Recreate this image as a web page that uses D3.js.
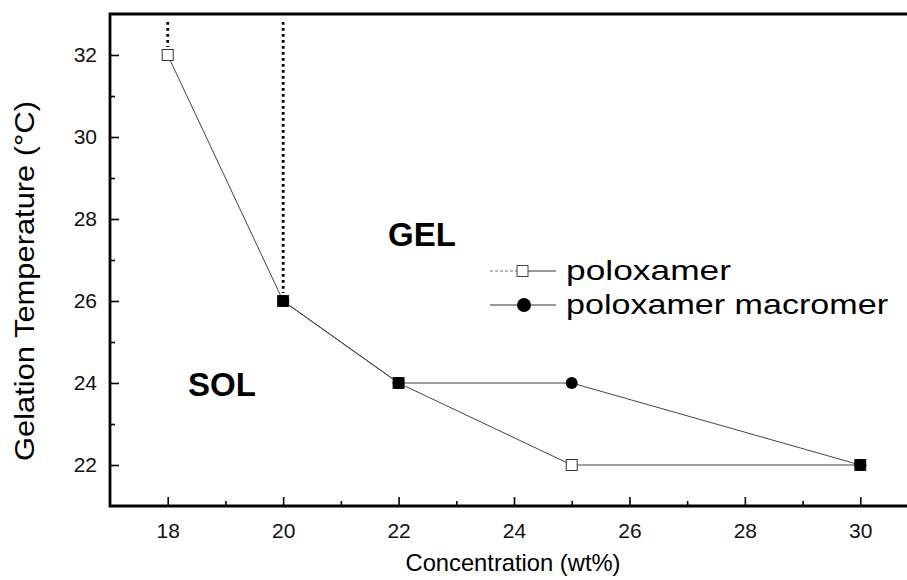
<!DOCTYPE html>
<html><head><meta charset="utf-8">
<script src="https://cdn.jsdelivr.net/npm/d3@7"></script>
<style>body{margin:0;background:#fff}svg{display:block}text{font-family:"Liberation Sans",Arial,sans-serif}</style>
</head><body>
<script>
const poloxamerConc = [18, 20, 22, 25, 30];
const poloxamerTemp = [32, 26, 24, 22, 22];
const macromerConc = [20, 22, 25, 30];
const macromerTemp = [26, 24, 24, 22];
const openEndConc = [18, 20];
const openEndTemp = [32, 26];
const xTicks = [18, 20, 22, 24, 26, 28, 30];
const yTicks = [22, 24, 26, 28, 30, 32];
const xMinor = [19, 21, 23, 25, 27, 29];
const yMinor = [23, 25, 27, 29, 31];

const W = 907, H = 580;
const m = {l: 110, t: 14, r: 918, b: 506};
const svg = d3.select("body").append("svg").attr("width", W).attr("height", H);
const x = d3.scaleLinear().domain([17, 31]).range([m.l, m.r]);
const y = d3.scaleLinear().domain([21, 33]).range([m.b, m.t]);

// axes
const gx = svg.append("g").attr("transform", `translate(0,${m.b})`)
  .call(d3.axisBottom(x).tickValues(xTicks).tickSize(-9).tickPadding(17).tickFormat(d3.format("d")));
const gxm = svg.append("g").attr("transform", `translate(0,${m.b})`)
  .call(d3.axisBottom(x).tickValues(xMinor).tickSize(-5).tickFormat(""));
const gy = svg.append("g").attr("transform", `translate(${m.l},0)`)
  .call(d3.axisLeft(y).tickValues(yTicks).tickSize(-9).tickPadding(13).tickFormat(d3.format("d")));
const gym = svg.append("g").attr("transform", `translate(${m.l},0)`)
  .call(d3.axisLeft(y).tickValues(yMinor).tickSize(-5).tickFormat(""));
[gx, gxm, gy, gym].forEach(g => {
  g.select(".domain").remove();
  g.selectAll("line").attr("stroke", "#000").attr("stroke-width", 1.6);
  g.selectAll("text").attr("font-size", 21).attr("fill", "#111");
});
// frame
svg.append("path")
  .attr("d", `M${m.r},${m.t}H${m.l}V${m.b}H${m.r}`)
  .attr("fill", "none").attr("stroke", "#000").attr("stroke-width", 2.8);

// dotted open-end lines
openEndConc.forEach((c, i) => {
  svg.append("line")
    .attr("x1", x(c)).attr("x2", x(c))
    .attr("y1", y(33) + 8).attr("y2", y(openEndTemp[i]) - 8)
    .attr("stroke", "#000").attr("stroke-width", 2.8).attr("stroke-dasharray", "2.8,3.2");
});

const line = d3.line().x(d => x(d[0])).y(d => y(d[1]));
const pData = poloxamerConc.map((c, i) => [c, poloxamerTemp[i]]);
const mData = macromerConc.map((c, i) => [c, macromerTemp[i]]);
svg.append("path").datum(pData).attr("d", line).attr("fill", "none").attr("stroke", "#444").attr("stroke-width", 1);
svg.append("path").datum(mData).attr("d", line).attr("fill", "none").attr("stroke", "#444").attr("stroke-width", 1);

// markers
svg.selectAll(".sq").data(pData).enter().append("rect")
  .attr("x", d => x(d[0]) - 5.5).attr("y", d => y(d[1]) - 5.5)
  .attr("width", 11).attr("height", 11)
  .attr("fill", "#fff").attr("stroke", "#333").attr("stroke-width", 1);
svg.selectAll(".ci").data(mData).enter().append("circle")
  .attr("cx", d => x(d[0])).attr("cy", d => y(d[1])).attr("r", 6)
  .attr("fill", "#000");
// overlapping points appear as filled squares
const overlap = pData.filter(p => mData.some(q => q[0] === p[0] && q[1] === p[1]));
svg.selectAll(".ov").data(overlap).enter().append("rect")
  .attr("x", d => x(d[0]) - 5.5).attr("y", d => y(d[1]) - 5.5)
  .attr("width", 11).attr("height", 11).attr("fill", "#000");

// region labels
svg.append("text").attr("x", 422).attr("y", 246).attr("text-anchor", "middle")
  .attr("font-size", 33).attr("font-weight", "bold").text("GEL");
svg.append("text").attr("x", 222).attr("y", 396).attr("text-anchor", "middle")
  .attr("font-size", 33).attr("font-weight", "bold").text("SOL");

// legend
const lg = svg.append("g");
const ly = [271, 305];
lg.append("line").attr("x1", 490).attr("x2", 517).attr("y1", ly[0]).attr("y2", ly[0])
  .attr("stroke", "#777").attr("stroke-width", 1).attr("stroke-dasharray", "3,2");
lg.append("line").attr("x1", 528).attr("x2", 556).attr("y1", ly[0]).attr("y2", ly[0])
  .attr("stroke", "#333").attr("stroke-width", 1);
lg.append("rect").attr("x", 517).attr("y", ly[0] - 5.5).attr("width", 11).attr("height", 11)
  .attr("fill", "#fff").attr("stroke", "#444").attr("stroke-width", 1);
lg.append("line").attr("x1", 490).attr("x2", 556).attr("y1", ly[1]).attr("y2", ly[1])
  .attr("stroke", "#333").attr("stroke-width", 1);
lg.append("circle").attr("cx", 524).attr("cy", ly[1]).attr("r", 7).attr("fill", "#000");
lg.append("text").attr("x", 566).attr("y", ly[0] + 9).attr("font-size", 28)
  .attr("textLength", 165).attr("lengthAdjust", "spacingAndGlyphs").text("poloxamer");
lg.append("text").attr("x", 566).attr("y", ly[1] + 9).attr("font-size", 28)
  .attr("textLength", 322).attr("lengthAdjust", "spacingAndGlyphs").text("poloxamer macromer");

// axis titles
svg.append("text").attr("x", 513).attr("y", 571).attr("text-anchor", "middle")
  .attr("font-size", 24).attr("textLength", 215).attr("lengthAdjust", "spacingAndGlyphs")
  .text("Concentration (wt%)");
svg.append("text").attr("transform", `translate(34,281) rotate(-90)`)
  .attr("text-anchor", "middle").attr("font-size", 28)
  .attr("textLength", 360).attr("lengthAdjust", "spacingAndGlyphs")
  .text("Gelation Temperature (\u00B0C)");
</script>
</body></html>
